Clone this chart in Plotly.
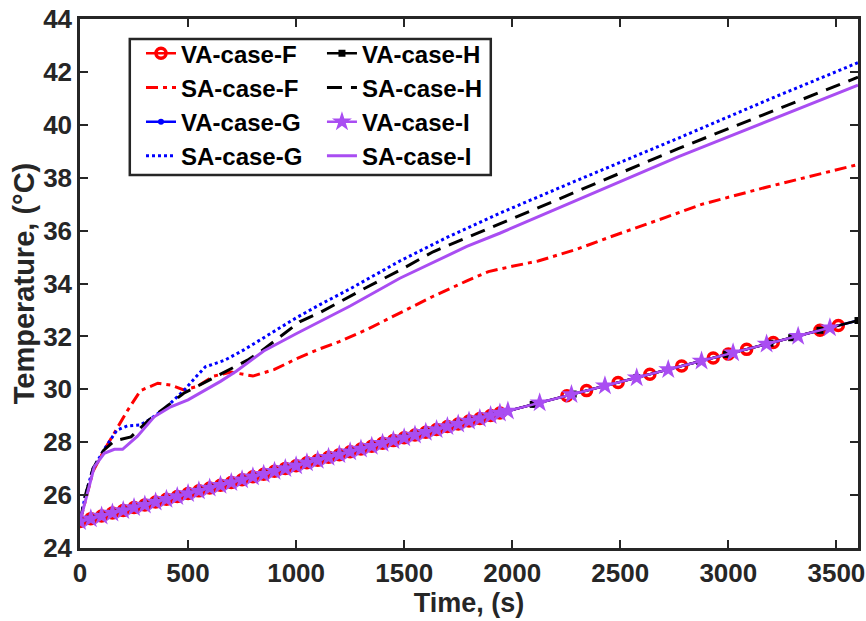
import plotly.graph_objects as go

# ---------------- data ----------------
# VA curves: dense sampled part shared by all VA cases
t_dense = [0, 50, 100, 150, 200, 250, 300, 350, 400, 450, 500, 550, 600, 650, 700,
           750, 800, 850, 900, 950, 1000, 1050, 1100, 1150, 1200, 1250, 1300, 1350,
           1400, 1450, 1500, 1550, 1600, 1650, 1700, 1750, 1800, 1850, 1900, 1943]
T_dense = [25.00, 25.11, 25.21, 25.32, 25.42, 25.53, 25.63, 25.74, 25.84, 25.95,
           26.06, 26.16, 26.27, 26.37, 26.48, 26.58, 26.69, 26.79, 26.90, 27.01,
           27.11, 27.22, 27.32, 27.43, 27.53, 27.64, 27.74, 27.85, 27.96, 28.06,
           28.17, 28.27, 28.38, 28.48, 28.59, 28.69, 28.80, 28.90, 29.01, 29.10]

t_va_f_tail = [2253, 2344, 2490, 2637, 2784, 2930, 3000, 3085, 3208, 3424, 3509]
T_va_f_tail = [29.76, 29.95, 30.26, 30.57, 30.88, 31.18, 31.33, 31.51, 31.77, 32.23, 32.41]

t_va_g_tail = [2097, 2282, 2576, 2868, 3193, 3424, 3600]
T_va_g_tail = [29.43, 29.82, 30.44, 31.05, 31.74, 32.23, 32.60]

t_va_h_tail = [2097, 2282, 2576, 2868, 2992, 3193, 3293, 3424, 3600]
T_va_h_tail = [29.43, 29.82, 30.44, 31.05, 31.32, 31.74, 31.95, 32.23, 32.60]

t_va_i_tail = [1980, 2127, 2274, 2429, 2576, 2722, 2876, 3022, 3177, 3323, 3470]
T_va_i_tail = [29.18, 29.49, 29.80, 30.13, 30.44, 30.75, 31.07, 31.38, 31.71, 32.01, 32.33]

# SA curves
t_sa_f = [0, 30, 60, 112, 160, 220, 280, 360, 420, 480, 540, 620, 700, 800, 900, 1000,
          1100, 1200, 1325, 1480, 1630, 1790, 1890, 2000, 2120, 2300, 2450, 2710, 2880,
          3180, 3400, 3600]
T_sa_f = [25.0, 26.0, 26.9, 27.7, 28.35, 29.2, 29.95, 30.23, 30.16, 29.98, 30.1, 30.5,
          30.65, 30.5, 30.75, 31.15, 31.5, 31.8, 32.25, 32.88, 33.5, 34.1, 34.45, 34.65,
          34.85, 35.3, 35.75, 36.5, 37.0, 37.65, 38.1, 38.5]

t_sa_g = [0, 25, 60, 110, 170, 220, 280, 330, 390, 480, 540, 580, 670, 760, 860, 1000,
          1110, 1250, 1480, 1700, 1940, 2300, 2770, 3200, 3600]
T_sa_g = [25.0, 26.0, 27.0, 27.7, 28.45, 28.62, 28.65, 28.9, 29.25, 29.95, 30.5, 30.85,
          31.1, 31.5, 32.0, 32.7, 33.2, 33.8, 34.85, 35.75, 36.65, 37.9, 39.5, 41.0, 42.35]

t_sa_h = [0, 25, 60, 110, 160, 236, 313, 390, 480, 575, 667, 775, 840, 1016, 1110, 1325,
          1480, 1634, 1942, 2768, 3600]
T_sa_h = [25.0, 26.0, 27.0, 27.7, 28.05, 28.2, 28.8, 29.3, 29.85, 30.25, 30.65, 31.1,
          31.45, 32.55, 32.9, 33.85, 34.5, 35.2, 36.25, 39.1, 41.8]

t_sa_i = [0, 20, 66, 112, 159, 197, 228, 266, 343, 420, 500, 575, 650, 723, 850, 1000,
          1110, 1250, 1480, 1790, 1942, 2770, 3600]
T_sa_i = [25.0, 25.6, 27.07, 27.58, 27.73, 27.73, 27.96, 28.23, 28.96, 29.34, 29.6,
          29.95, 30.3, 30.68, 31.45, 32.1, 32.55, 33.15, 34.2, 35.4, 35.9, 38.8, 41.5]

x_ticks = [0, 500, 1000, 1500, 2000, 2500, 3000, 3500]
y_ticks = [24, 26, 28, 30, 32, 34, 36, 38, 40, 42, 44]

RED = "#FF0000"
BLUE = "#0000FF"
BLACK = "#000000"
PURPLE = "#A94DF2"
AXC = "#262626"
FONT = "Liberation Sans, Arial, sans-serif"

fig = go.Figure()

def va(name, t_tail, T_tail, color, marker, legend):
    fig.add_trace(go.Scatter(
        x=t_dense + t_tail, y=T_dense + T_tail, name=name, mode="lines+markers",
        line=dict(color=color, width=2.5), marker=marker, legend=legend))

def sa(name, t, T, color, dash, legend):
    fig.add_trace(go.Scatter(
        x=t, y=T, name=name, mode="lines",
        line=dict(color=color, width=3, dash=dash), legend=legend))

va("VA-case-F", t_va_f_tail, T_va_f_tail, RED,
   dict(symbol="circle-open", size=10, color=RED, line=dict(width=3.5, color=RED)), "legend")
sa("SA-case-F", t_sa_f, T_sa_f, RED, "12px,5px,4px,5px", "legend")
va("VA-case-G", t_va_g_tail, T_va_g_tail, BLUE,
   dict(symbol="circle", size=6, color=BLUE), "legend")
sa("SA-case-G", t_sa_g, T_sa_g, BLUE, "3px,3px", "legend")
va("VA-case-H", t_va_h_tail, T_va_h_tail, BLACK,
   dict(symbol="square", size=7, color=BLACK), "legend2")
sa("SA-case-H", t_sa_h, T_sa_h, BLACK, "15px,9px", "legend2")
va("VA-case-I", t_va_i_tail, T_va_i_tail, PURPLE,
   dict(symbol="star", size=15, color=PURPLE, line=dict(width=0)), "legend2")
sa("SA-case-I", t_sa_i, T_sa_i, PURPLE, "solid", "legend2")

axis_common = dict(
    showline=True, linewidth=2.5, linecolor=AXC, mirror="ticks",
    ticks="inside", ticklen=8, tickwidth=2, tickcolor=AXC,
    showgrid=False, zeroline=False, automargin=False,
    tickfont=dict(family=FONT, size=26, color=AXC, weight="bold"),
)

legend_font = dict(family=FONT, size=24, color="black", weight="bold")

fig.update_layout(
    width=866, height=621,
    margin=dict(l=80, r=8, t=19, b=73),
    paper_bgcolor="white", plot_bgcolor="white",
    xaxis=dict(range=[0, 3600], tickvals=x_ticks,
               title=dict(text="Time, (s)", standoff=4,
                          font=dict(family=FONT, size=27, color=AXC, weight="bold")),
               **axis_common),
    yaxis=dict(range=[24, 44], tickvals=y_ticks,
               title=dict(text="Temperature, (°C)", standoff=0,
                          font=dict(family=FONT, size=29, color=AXC, weight="bold")),
               **axis_common),
    legend=dict(x=0.0784, y=0.977, xanchor="left", yanchor="top",
                bgcolor="rgba(0,0,0,0)", borderwidth=0, font=legend_font),
    legend2=dict(x=0.311, y=0.977, xanchor="left", yanchor="top",
                 bgcolor="rgba(0,0,0,0)", borderwidth=0, font=legend_font),
    shapes=[dict(type="rect", xref="paper", yref="paper",
                 x0=0.064, x1=0.528, y0=0.705, y1=0.962,
                 line=dict(color=AXC, width=2.5), fillcolor="white", layer="above")],
)

fig.write_html("out.html")
